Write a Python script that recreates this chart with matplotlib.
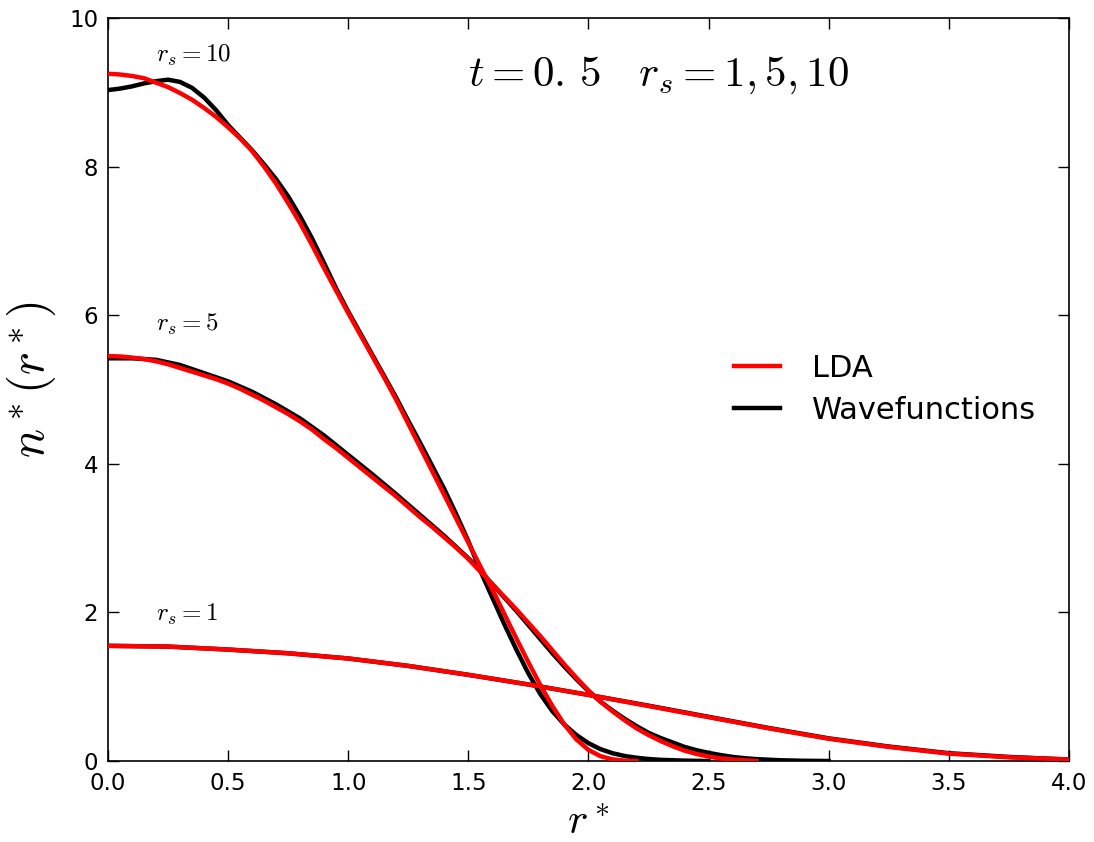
import matplotlib
matplotlib.use("Agg")
import matplotlib.pyplot as plt

plt.rcParams['mathtext.fontset'] = 'cm'
plt.rcParams['font.family'] = ['DejaVu Sans']

# rs = 10, LDA
r10_lda = [0.00, 0.05, 0.10, 0.15, 0.20, 0.25, 0.30, 0.35, 0.40, 0.45, 0.50, 0.55, 0.60, 0.65,
           0.70, 0.75, 0.80, 0.85, 0.90, 0.95, 1.00, 1.05, 1.10, 1.15, 1.20, 1.25, 1.30, 1.35,
           1.40, 1.45, 1.50, 1.55, 1.60, 1.65, 1.70, 1.75, 1.80, 1.85, 1.90, 1.95, 2.00, 2.05,
           2.10, 2.15, 2.20]
n10_lda = [9.25, 9.24, 9.22, 9.19, 9.13, 9.07, 8.99, 8.90, 8.79, 8.67, 8.53, 8.38, 8.21, 8.00,
           7.77, 7.51, 7.24, 6.94, 6.63, 6.33, 6.03, 5.74, 5.45, 5.16, 4.86, 4.54, 4.22, 3.90,
           3.58, 3.26, 2.94, 2.62, 2.31, 1.98, 1.65, 1.33, 1.02, 0.74, 0.49, 0.29, 0.15, 0.065,
           0.022, 0.005, 0.0]
# rs = 10, wavefunctions
r10_wf = [0.00, 0.05, 0.10, 0.15, 0.20, 0.25, 0.30, 0.35, 0.40, 0.45, 0.50, 0.55, 0.60, 0.65,
          0.70, 0.75, 0.80, 0.85, 0.90, 0.95, 1.00, 1.05, 1.10, 1.15, 1.20, 1.25, 1.30, 1.35,
          1.40, 1.45, 1.50, 1.55, 1.60, 1.65, 1.70, 1.75, 1.80, 1.85, 1.90, 1.95, 2.00, 2.05,
          2.10, 2.15, 2.20, 2.25, 2.30, 2.40, 2.50]
n10_wf = [9.03, 9.05, 9.08, 9.12, 9.15, 9.17, 9.14, 9.06, 8.93, 8.76, 8.56, 8.39, 8.22, 8.03,
          7.83, 7.60, 7.33, 7.03, 6.70, 6.36, 6.05, 5.76, 5.47, 5.18, 4.89, 4.58, 4.28, 3.97,
          3.66, 3.32, 2.96, 2.56, 2.20, 1.84, 1.50, 1.18, 0.90, 0.67, 0.49, 0.35, 0.24, 0.16,
          0.105, 0.068, 0.044, 0.027, 0.016, 0.005, 0.0]

# rs = 5, LDA
r5_lda = [0.00, 0.05, 0.10, 0.15, 0.20, 0.25, 0.30, 0.35, 0.40, 0.45, 0.50, 0.55, 0.60, 0.65,
          0.70, 0.75, 0.80, 0.85, 0.90, 0.95, 1.00, 1.05, 1.10, 1.15, 1.20, 1.25, 1.30, 1.35,
          1.40, 1.45, 1.50, 1.55, 1.60, 1.65, 1.70, 1.75, 1.80, 1.85, 1.90, 1.95, 2.00, 2.05,
          2.10, 2.15, 2.20, 2.25, 2.30, 2.35, 2.40, 2.45, 2.50, 2.55, 2.60, 2.65, 2.70]
n5_lda = [5.45, 5.445, 5.43, 5.41, 5.38, 5.34, 5.29, 5.24, 5.19, 5.14, 5.08, 5.01, 4.93, 4.85,
          4.76, 4.67, 4.57, 4.46, 4.33, 4.21, 4.08, 3.95, 3.82, 3.69, 3.56, 3.42, 3.28, 3.15,
          3.01, 2.87, 2.72, 2.55, 2.38, 2.21, 2.04, 1.86, 1.68, 1.49, 1.30, 1.12, 0.95, 0.80,
          0.67, 0.55, 0.44, 0.35, 0.27, 0.20, 0.14, 0.095, 0.06, 0.035, 0.02, 0.01, 0.0]
# rs = 5, wavefunctions
r5_wf = [0.00, 0.10, 0.20, 0.30, 0.40, 0.50, 0.60, 0.70, 0.80, 0.90, 1.00, 1.10, 1.20, 1.30,
         1.40, 1.50, 1.55, 1.60, 1.65, 1.70, 1.75, 1.80, 1.85, 1.90, 1.95, 2.00, 2.05, 2.10,
         2.15, 2.20, 2.25, 2.30, 2.35, 2.40, 2.45, 2.50, 2.55, 2.60, 2.65, 2.70, 2.80, 2.90, 3.00]
n5_wf = [5.42, 5.42, 5.40, 5.33, 5.22, 5.11, 4.97, 4.80, 4.61, 4.38, 4.12, 3.86, 3.59, 3.31,
         3.03, 2.73, 2.56, 2.38, 2.20, 2.02, 1.83, 1.64, 1.45, 1.27, 1.10, 0.94, 0.80, 0.68,
         0.57, 0.47, 0.38, 0.31, 0.25, 0.19, 0.145, 0.11, 0.08, 0.055, 0.038, 0.025, 0.01, 0.003, 0.0]

# rs = 1
r1 = [0.0, 0.25, 0.5, 0.75, 1.0, 1.25, 1.5, 1.75, 2.0, 2.25, 2.5, 2.75, 3.0, 3.25, 3.5, 3.75, 4.0]
n1_lda = [1.55, 1.54, 1.50, 1.45, 1.38, 1.28, 1.16, 1.03, 0.89, 0.74, 0.59, 0.44, 0.30, 0.19, 0.10, 0.05, 0.02]
n1_wf = [1.55, 1.54, 1.50, 1.45, 1.38, 1.28, 1.16, 1.03, 0.89, 0.745, 0.595, 0.445, 0.305, 0.195, 0.105, 0.055, 0.02]

x_ticks = [0.0, 0.5, 1.0, 1.5, 2.0, 2.5, 3.0, 3.5, 4.0]
y_ticks = [0, 2, 4, 6, 8, 10]

fig = plt.figure(figsize=(10.94, 8.42), dpi=100)
ax = fig.add_axes([0.0987, 0.0962, 0.8783, 0.8824])

lw = 3.2
ax.plot(r10_wf, n10_wf, color='black', lw=lw, zorder=2, label='Wavefunctions')
ax.plot(r5_wf, n5_wf, color='black', lw=lw, zorder=2)
ax.plot(r1, n1_wf, color='black', lw=lw, zorder=2)
ax.plot(r10_lda, n10_lda, color='red', lw=lw, zorder=3, label='LDA')
ax.plot(r5_lda, n5_lda, color='red', lw=lw, zorder=3)
ax.plot(r1, n1_lda, color='red', lw=lw, zorder=3)

ax.set_xlim(0, 4.0)
ax.set_ylim(0, 10)
ax.set_xticks(x_ticks)
ax.set_xticklabels([f"{v:.1f}" for v in x_ticks])
ax.set_yticks(y_ticks)
ax.set_yticklabels([str(v) for v in y_ticks])
ax.tick_params(direction='in', top=True, right=True, length=8, width=1, labelsize=16.5)
ax.tick_params(axis='x', pad=8)
ax.tick_params(axis='y', pad=7)
for s in ax.spines.values():
    s.set_linewidth(1.2)

ax.set_xlabel(r'$r^*$', fontsize=31, labelpad=4)
ax.set_ylabel(r'$n^*(r^*)$', fontsize=35)
ax.yaxis.set_label_coords(-0.052, 0.513)

ax.text(0.2, 9.5, r'$r_s=10$', fontsize=18, ha='left', va='center')
ax.text(0.2, 5.87, r'$r_s=5$', fontsize=18, ha='left', va='center')
ax.text(0.2, 1.98, r'$r_s=1$', fontsize=18, ha='left', va='center')
ax.text(1.5, 9.23, r'$t=0.\,5\quad r_s=1,5,10$', fontsize=31, ha='left', va='center')

h, l = ax.get_legend_handles_labels()
ax.legend([h[1], h[0]], [l[1], l[0]], loc='center right', bbox_to_anchor=(0.995, 0.50),
          frameon=False, fontsize=22, handlelength=1.5, handletextpad=1.05, labelspacing=0.42)

fig.savefig('out.png', dpi=100)
